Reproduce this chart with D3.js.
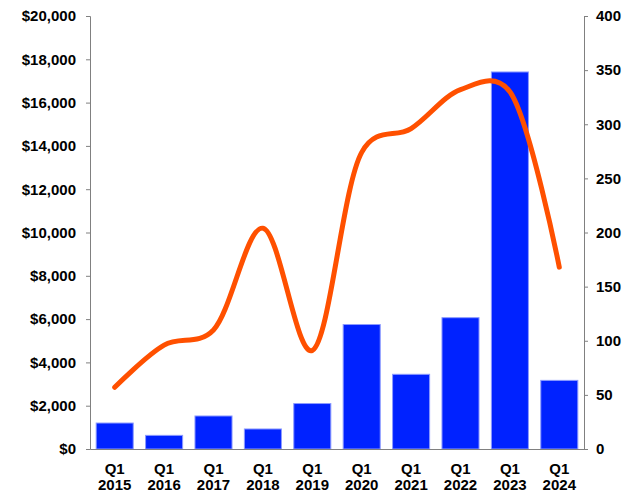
<!DOCTYPE html>
<html>
<head>
<meta charset="utf-8">
<script src="https://cdn.jsdelivr.net/npm/d3@7"></script>
<style>
  html, body { margin: 0; padding: 0; background: #fff; }
  svg { display: block; }
  text { font-family: "Liberation Sans", Arial, sans-serif; font-weight: bold; fill: #000; }
</style>
</head>
<body>
<svg id="chart" width="639" height="492"></svg>
<script>
const quarters = ["Q1", "Q1", "Q1", "Q1", "Q1", "Q1", "Q1", "Q1", "Q1", "Q1"];
const years = ["2015", "2016", "2017", "2018", "2019", "2020", "2021", "2022", "2023", "2024"];
const barValues = [1200, 630, 1525, 925, 2100, 5750, 3450, 6065, 17415, 3170];
const lineValues = [57, 96, 110, 204, 91, 274, 296, 332, 330, 168];
const leftTicks = [0, 2000, 4000, 6000, 8000, 10000, 12000, 14000, 16000, 18000, 20000];
const rightTicks = [0, 50, 100, 150, 200, 250, 300, 350, 400];

const svg = d3.select("#chart");
const mLeft = 90, mRight = 584, mTop = 16, mBottom = 449;

const x = d3.scaleBand().domain(years).range([mLeft, mRight]).paddingInner(0.25).paddingOuter(0.125);
const yL = d3.scaleLinear().domain([0, 20000]).range([mBottom, mTop]);
const yR = d3.scaleLinear().domain([0, 400]).range([mBottom, mTop]);

// bars
svg.append("g").selectAll("rect").data(barValues).join("rect")
  .attr("x", (d, i) => x(years[i]))
  .attr("width", x.bandwidth())
  .attr("y", d => yL(d))
  .attr("height", d => yL(0) - yL(d))
  .attr("fill", "#0022ff")
  .attr("stroke", "#8c9bff")
  .attr("stroke-width", 1);

// left axis
const gL = svg.append("g").attr("transform", `translate(${mLeft},0)`)
  .call(d3.axisLeft(yL).tickValues(leftTicks).tickSize(4).tickPadding(10)
    .tickFormat(d => "$" + d3.format(",")(d)));
gL.selectAll("text").style("font-size", "15px");

// right axis
const gR = svg.append("g").attr("transform", `translate(${mRight},0)`)
  .call(d3.axisRight(yR).tickValues(rightTicks).tickSize(4).tickPadding(8));
gR.selectAll("text").style("font-size", "15px");

// bottom axis
const gB = svg.append("g").attr("transform", `translate(0,${mBottom})`)
  .call(d3.axisBottom(x).tickSize(0).tickSizeOuter(0).tickFormat(""));
gB.selectAll(".tick").each(function(d, i) {
  const t = d3.select(this).append("text")
    .attr("text-anchor", "middle")
    .style("font-size", "15px");
  t.append("tspan").attr("x", 0).attr("y", 25).text(quarters[i]);
  t.append("tspan").attr("x", 0).attr("y", 41).text(years[i]);
});

[gL, gR, gB].forEach(g => {
  g.selectAll(".domain").attr("stroke", "#808080");
  g.selectAll(".tick line").attr("stroke", "#808080");
});

// line
const line = d3.line()
  .x((d, i) => x(years[i]) + x.bandwidth() / 2)
  .y(d => yR(d))
  .curve(d3.curveCatmullRom.alpha(0.2));
svg.append("path").datum(lineValues)
  .attr("d", line)
  .attr("fill", "none")
  .attr("stroke", "#ff5000")
  .attr("stroke-width", 5)
  .attr("stroke-linecap", "round");
</script>
</body>
</html>
